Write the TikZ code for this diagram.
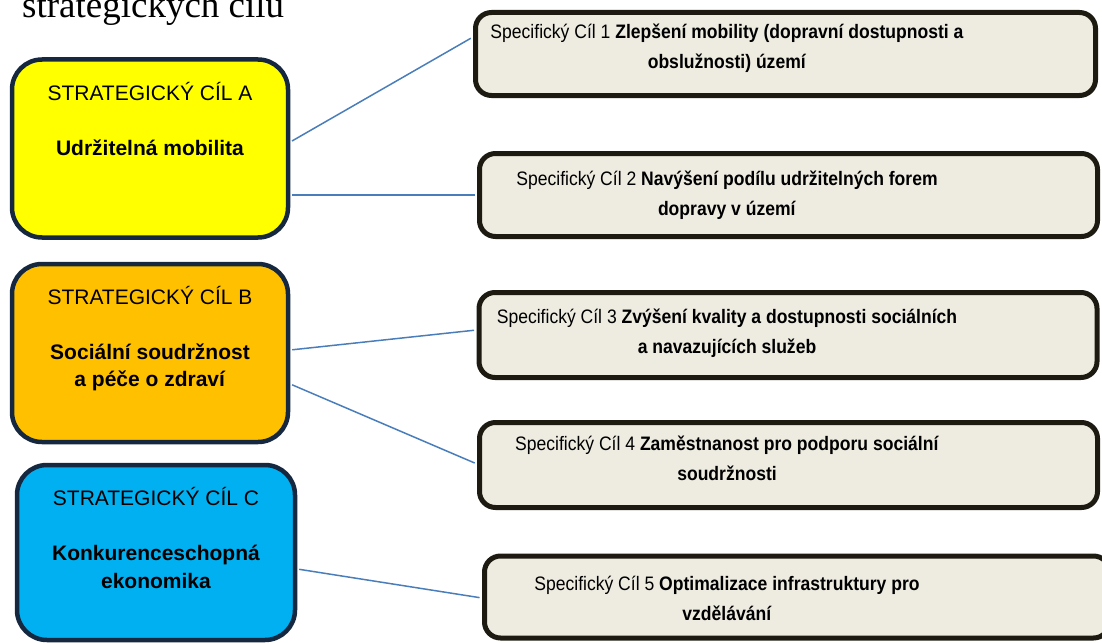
\documentclass[tikz,border=0pt]{standalone}
\usepackage{fontspec}
\setmainfont{Liberation Sans}
\newfontfamily\titlefont{Liberation Serif}
\newfontfamily\cilfont[FakeStretch=0.9]{Liberation Sans}
\usepackage{tikz}
\definecolor{fnavy}{RGB}{22, 40, 64}
\definecolor{fyellow}{RGB}{255, 255, 0}
\definecolor{forange}{RGB}{255, 192, 0}
\definecolor{fblue}{RGB}{0, 176, 240}
\definecolor{ftan}{RGB}{238, 236, 225}
\definecolor{fdark}{RGB}{29, 27, 17}
\definecolor{myblue}{RGB}{74, 126, 187}

\begin{document}
\begin{tikzpicture}[x=1pt, y=-1pt]
                \useasboundingbox (0,0) rectangle (1102,642);

                \node[anchor=base west, inner sep=0, font=\titlefont\fontsize{37}{44}\selectfont] (T) at (22,18) {strategických cílů};

                \tikzstyle{goal}=[rectangle, draw=fnavy, line width=4.5pt, rounded corners=30pt, minimum width=276pt, minimum height=178pt]
                \tikzstyle{goaltext}=[anchor=north, inner sep=0, align=center, font=\fontsize{21}{27.5}\selectfont]
                \node[goal, fill=fyellow] (A) at (150,148.5) {};
                \node[goal, fill=forange] (B) at (150,353) {};
                \node[goal, fill=fblue, minimum width=278pt, minimum height=175pt] (C) at (156,552.5) {};
                \node[goaltext] (At) at ([yshift=-24.5pt]A.north) {STRATEGICKÝ CÍL A\\[27.5pt] \textbf{Udržitelná mobilita}};
                \node[goaltext] (Bt) at ([yshift=-24pt]B.north) {STRATEGICKÝ CÍL B\\[27.5pt] \textbf{Sociální soudržnost}\\ \textbf{a péče o zdraví}};
                \node[goaltext] (Ct) at ([yshift=-24.5pt]C.north) {STRATEGICKÝ CÍL C\\[27.5pt] \textbf{Konkurenceschopná}\\ \textbf{ekonomika}};

                \tikzstyle{cil}=[rectangle, draw=fdark, fill=ftan, line width=5pt, rounded corners=16pt, minimum width=618pt, minimum height=84pt]
                \tikzstyle{ciltext}=[anchor=north, inner sep=0, align=center, font=\cilfont\fontsize{19.5}{30.5}\selectfont]
                \node[cil, minimum width=620pt, minimum height=83pt] (S1) at (785.5,54) {};
                \node[cil, minimum height=83pt] (S2) at (788.5,195) {};
                \node[cil, minimum height=85pt] (S3) at (788,335) {};
                \node[cil, minimum height=85pt] (S4) at (788.5,465) {};
                \node[cil, minimum width=625pt, minimum height=82pt] (S5) at (797,597) {};
                \node[ciltext] (T1) at (727,23.5) {Specifický Cíl 1 \textbf{Zlepšení mobility (dopravní dostupnosti a}\\ \textbf{obslužnosti) území}};
                \node[ciltext] (T2) at (727,170.5) {Specifický Cíl 2 \textbf{Navýšení podílu udržitelných forem}\\ \textbf{dopravy v území}};
                \node[ciltext] (T3) at (727,308.5) {Specifický Cíl 3 \textbf{Zvýšení kvality a dostupnosti sociálních}\\ \textbf{a navazujících služeb}};
                \node[ciltext] (T4) at (727,435.5) {Specifický Cíl 4 \textbf{Zaměstnanost pro podporu sociální}\\ \textbf{soudržnosti}};
                \node[ciltext] (T5) at (727,575.5) {Specifický Cíl 5 \textbf{Optimalizace infrastruktury pro}\\ \textbf{vzdělávání}};

                \tikzstyle{bind}=[draw=myblue, line width=1.5pt, shorten <=2pt, shorten >=2.5pt]

                \draw[bind] ([yshift=6.5pt]A.east) to ([yshift=17pt]S1.west);
                \draw[bind] ([yshift=-46.5pt]A.east) to (S2.west);
                \draw[bind] ([yshift=3pt]B.east) to ([yshift=5pt]S3.west);
                \draw[bind] ([yshift=-31pt]B.east) to ([yshift=1pt]S4.west);
                \draw[bind] ([yshift=-16.5pt]C.east) to ([yshift=-1pt]S5.west);
            \end{tikzpicture}
\end{document}
